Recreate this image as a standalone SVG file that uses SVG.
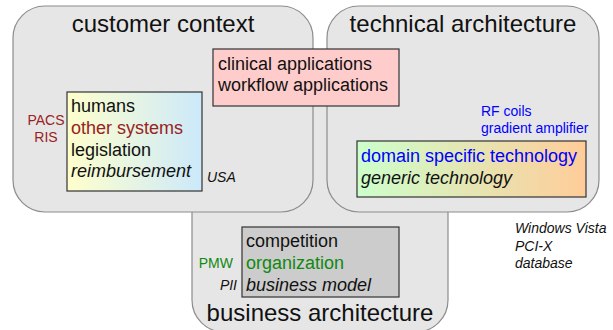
<svg xmlns="http://www.w3.org/2000/svg" width="613" height="330" viewBox="0 0 613 330">
<defs>
<linearGradient id="gCust" x1="0" y1="0" x2="1" y2="0"><stop offset="0" stop-color="#ffffcc"/><stop offset="1" stop-color="#cce9fb"/></linearGradient>
<linearGradient id="gTech" x1="0" y1="0" x2="1" y2="0"><stop offset="0" stop-color="#ccffcc"/><stop offset="1" stop-color="#ffcc99"/></linearGradient>
<style>
.area{fill:#e6e6e6;stroke:#8c8c8c;stroke-width:1.2}
.box{stroke:#333;stroke-width:1.2}
text{font-family:"Liberation Sans",Arial,sans-serif;fill:#111}
.title{font-size:24px;text-anchor:middle}
.big{font-size:18px}
.small{font-size:14px}
.it{font-style:italic}
.red{fill:#992222}
.blue{fill:#0000ff}
.green{fill:#118811}
</style>
</defs>
<g id="business-architecture">
<rect class="area" x="192" y="55" width="256" height="277" rx="32"/>
<text class="title" x="320" y="321">business architecture</text>
</g>
<g id="customer-context">
<rect class="area" x="13" y="6" width="300" height="206" rx="32"/>
<text class="title" x="163" y="32">customer context</text>
</g>
<g id="technical-architecture">
<rect class="area" x="327" y="6" width="272" height="206" rx="32"/>
<text class="title" x="463" y="32">technical architecture</text>
</g>
<g id="applications">
<rect class="box" x="213" y="49" width="186" height="57" fill="#ffcccc"/>
<text class="big" x="218" y="70">clinical applications</text>
<text class="big" x="218" y="91">workflow applications</text>
</g>
<g id="customer-items">
<rect class="box" x="67" y="92" width="135" height="99" fill="url(#gCust)"/>
<text class="big" x="71" y="112">humans</text>
<text class="big red" x="71" y="134">other systems</text>
<text class="big" x="71" y="156">legislation</text>
<text class="big it" x="71" y="177">reimbursement</text>
</g>
<g id="customer-examples">
<text class="small red" x="46" y="125" text-anchor="middle">PACS</text>
<text class="small red" x="46" y="142" text-anchor="middle">RIS</text>
<text class="small it" x="207" y="182">USA</text>
</g>
<g id="technology">
<rect class="box" x="357" y="141" width="229" height="56" fill="url(#gTech)"/>
<text class="big blue" x="361" y="162">domain specific technology</text>
<text class="big it" x="361" y="184">generic technology</text>
</g>
<g id="technical-examples">
<text class="small blue" x="481" y="116">RF coils</text>
<text class="small blue" x="481" y="133">gradient amplifier</text>
</g>
<g id="business-items">
<rect class="box" x="242" y="227" width="157" height="70" fill="#cccccc"/>
<text class="big" x="246" y="247">competition</text>
<text class="big green" x="246" y="269">organization</text>
<text class="big it" x="246" y="291">business model</text>
</g>
<g id="business-examples">
<text class="small green" x="233" y="268" text-anchor="end">PMW</text>
<text class="small it" x="237" y="290" text-anchor="end">PII</text>
</g>
<g id="other-examples">
<text class="small it" x="515" y="233">Windows Vista</text>
<text class="small it" x="515" y="251">PCI-X</text>
<text class="small it" x="515" y="268">database</text>
</g>
<g id="connectors"/>
</svg>
